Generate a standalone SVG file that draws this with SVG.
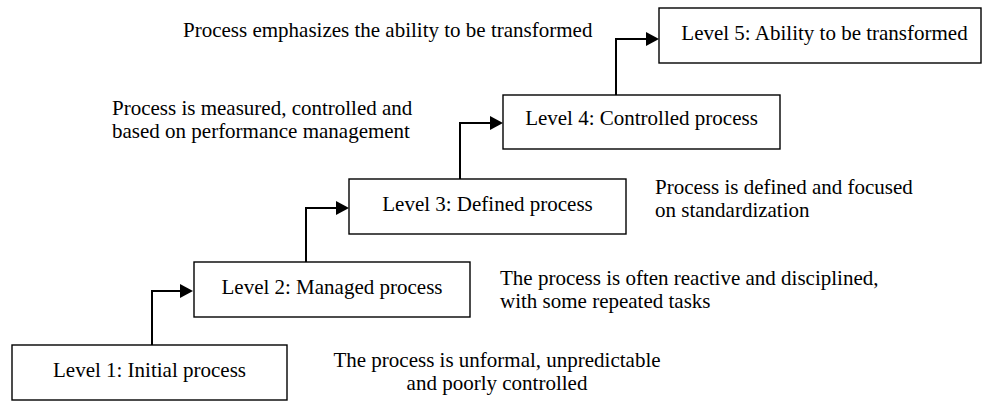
<svg xmlns="http://www.w3.org/2000/svg" width="982" height="403" viewBox="0 0 982 403">
<style>
  .box { fill: #fff; stroke: #000; stroke-width: 1.4; }
  .lbl { font-family: "Liberation Serif", "Times New Roman", serif; font-size: 21px; fill: #000; }
  .mid { text-anchor: middle; }
  .conn { fill: none; stroke: #000; stroke-width: 2; }
</style>
<defs>
  <marker id="arrow" viewBox="0 0 13 14" refX="0" refY="7" markerWidth="13" markerHeight="14" markerUnits="userSpaceOnUse" orient="auto">
    <path d="M0,0 L13,7 L0,14 z" fill="#000"/>
  </marker>
</defs>
<rect width="982" height="403" fill="#fff"/>

<g id="connectors">
  <path class="conn" d="M152,345 V291 H180" marker-end="url(#arrow)"/>
  <path class="conn" d="M306,262 V208 H336" marker-end="url(#arrow)"/>
  <path class="conn" d="M460,179 V123 H490" marker-end="url(#arrow)"/>
  <path class="conn" d="M616,95 V39 H646" marker-end="url(#arrow)"/>
</g>

<g id="level1">
  <rect class="box" x="12" y="345" width="275" height="55"/>
  <text class="lbl mid" x="149.5" y="377">Level 1: Initial process</text>
</g>
<g id="level2">
  <rect class="box" x="194" y="262" width="276" height="55"/>
  <text class="lbl mid" x="332" y="294">Level 2: Managed process</text>
</g>
<g id="level3">
  <rect class="box" x="349" y="179" width="277" height="55"/>
  <text class="lbl mid" x="487.5" y="211">Level 3: Defined process</text>
</g>
<g id="level4">
  <rect class="box" x="503" y="95" width="277" height="54"/>
  <text class="lbl mid" x="641.5" y="125">Level 4: Controlled process</text>
</g>
<g id="level5">
  <rect class="box" x="659" y="8" width="322" height="55"/>
  <text class="lbl mid" x="824.5" y="40">Level 5: Ability to be transformed</text>
</g>

<g id="note5">
  <text class="lbl" x="183" y="37">Process emphasizes the ability to be transformed</text>
</g>
<g id="note4">
  <text class="lbl" x="112" y="115">Process is measured, controlled and</text>
  <text class="lbl" x="112" y="138">based on performance management</text>
</g>
<g id="note3">
  <text class="lbl" x="655" y="194">Process is defined and focused</text>
  <text class="lbl" x="655" y="217">on standardization</text>
</g>
<g id="note2">
  <text class="lbl" x="500" y="285">The process is often reactive and disciplined,</text>
  <text class="lbl" x="500" y="308">with some repeated tasks</text>
</g>
<g id="note1">
  <text class="lbl mid" x="497" y="367">The process is unformal, unpredictable</text>
  <text class="lbl mid" x="497" y="390">and poorly controlled</text>
</g>
</svg>
